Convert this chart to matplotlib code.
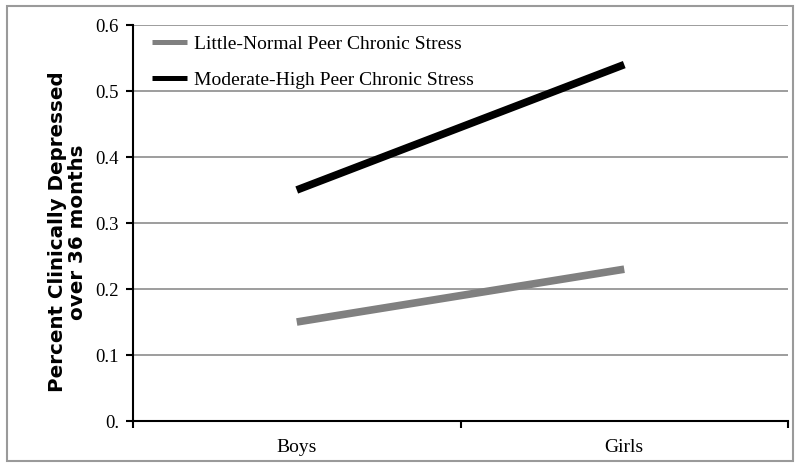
import matplotlib.pyplot as plt
from matplotlib.patches import Rectangle

groups = ['Boys', 'Girls']
little_normal = [0.15, 0.23]
moderate_high = [0.35, 0.54]
y_ticks = [0.0, 0.1, 0.2, 0.3, 0.4, 0.5, 0.6]
y_tick_labels = ['0.', '0.1', '0.2', '0.3', '0.4', '0.5', '0.6']

serif = ['Liberation Serif', 'DejaVu Serif']

fig = plt.figure(figsize=(8, 4.66), dpi=100)
ax = fig.add_axes([133 / 800, 45 / 466, 655 / 800, 396 / 466])

x = [0.5, 1.5]
ax.plot(x, little_normal, color='#808080', lw=5.5, solid_capstyle='butt',
        label='Little-Normal Peer Chronic Stress')
ax.plot(x, moderate_high, color='black', lw=5.5, solid_capstyle='butt',
        label='Moderate-High Peer Chronic Stress')

ax.set_xlim(0, 2)
ax.set_ylim(0, 0.6)
ax.set_yticks(y_ticks)
ax.set_yticklabels(y_tick_labels, fontfamily=serif, fontsize=13.5)
ax.yaxis.grid(True, color='#8c8c8c', lw=1.2)
ax.set_axisbelow(True)

# ticks on category edges, names in the middle
ax.set_xticks([0, 1, 2])
ax.set_xticklabels([])
ax.set_xticks(x, minor=True)
ax.set_xticklabels(groups, minor=True, fontfamily=serif, fontsize=14)
ax.tick_params(axis='x', which='minor', length=0, pad=13)
ax.tick_params(axis='x', which='major', length=5, width=1.5, direction='out')
ax.tick_params(axis='y', length=5, width=1.5, direction='out', pad=5)

for s in ['top', 'right']:
    ax.spines[s].set_visible(False)
ax.spines['left'].set_linewidth(1.5)
ax.spines['bottom'].set_linewidth(1.5)

ax.set_ylabel('Percent Clinically Depressed\nover 36 months', fontweight='bold',
              fontsize=14.3, fontfamily=['DejaVu Sans'], linespacing=1.05)
ax.yaxis.set_label_coords(-0.07, 0.477)

leg = ax.legend(loc='upper left', bbox_to_anchor=(0.017, 0.993), borderaxespad=0,
                frameon=False, prop={'family': serif, 'size': 14},
                handlelength=1.8, labelspacing=0.92, handletextpad=0.35)
for h in leg.get_lines():
    h.set_linewidth(3.6)

fig.patches.append(Rectangle((7 / 800, 5 / 466), 786 / 800, 455 / 466,
                             transform=fig.transFigure, fill=False,
                             edgecolor='#9a9a9a', lw=1.5))

fig.savefig('out.png', dpi=100)
